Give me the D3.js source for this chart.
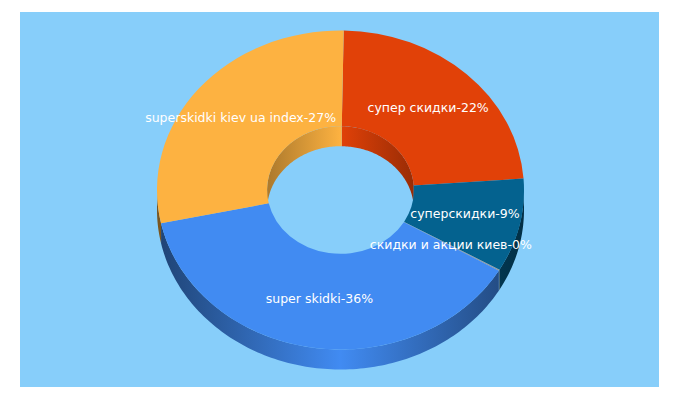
<!DOCTYPE html>
<html>
<head>
<meta charset="utf-8">
<script src="https://cdn.jsdelivr.net/npm/d3@7"></script>
<style>
  html, body { margin: 0; padding: 0; background: #fff; }
  text { font-family: "DejaVu Sans", sans-serif; font-size: 12.5px; fill: #fff; }
</style>
</head>
<body>
<div id="chartContainer"></div>
<script>
// donut in fake 3d, clockwise from the top
const names = ["супер скидки", "суперскидки", "скидки и акции киев", "super skidki", "superskidki kiev ua index"];
const labelPct = [22, 9, 0, 36, 27];
const shares = [22.4, 9.0, 0.1, 36.3, 27.2];
const colors = ["#e14108", "#04628f", "#9a9a9a", "#418bf2", "#fdb241"];

const width = 680, height = 400;
const panel = { x: 20, y: 12, w: 639, h: 375 };
const cx = 340.5, cy = 190;
const rx = 183.5, ry = 159.5, holeRatio = 0.4;
const depth = 20;
const startDeg = 1;

const svg = d3.select("#chartContainer").append("svg")
    .attr("width", width)
    .attr("height", height)
    .style("display", "block");

svg.append("rect")
    .attr("x", panel.x).attr("y", panel.y)
    .attr("width", panel.w).attr("height", panel.h)
    .attr("fill", "#87cefa");

const start = startDeg * Math.PI / 180;
const pie = d3.pie().sort(null).startAngle(start).endAngle(start + 2 * Math.PI);
const slices = pie(shares);

const defs = svg.append("defs");

// wall gradient: full colour in the middle, dark at both sides
function wallGradient(id, color, x1, x2, edge) {
    const dark = d3.interpolateRgb(color, "#000")(edge);
    const g = defs.append("linearGradient")
        .attr("id", id)
        .attr("gradientUnits", "userSpaceOnUse")
        .attr("x1", x1).attr("x2", x2)
        .attr("y1", 0).attr("y2", 0);
    g.append("stop").attr("offset", 0).attr("stop-color", dark);
    g.append("stop").attr("offset", 0.5).attr("stop-color", color);
    g.append("stop").attr("offset", 1).attr("stop-color", dark);
}

colors.forEach((c, i) => {
    wallGradient(`outer-${i}`, c, cx - rx, cx + rx, 0.52);
    wallGradient(`inner-${i}`, c, cx - rx * holeRatio, cx + rx * holeRatio, 0.32);
});

// point on the ellipse, a = 0 at top, clockwise
const px = (a, k) => cx + rx * k * Math.sin(a);
const py = (a, k, z) => cy - ry * k * Math.cos(a) + z;
const outline = d3.line();

// band between top and bottom edge of the ring for angles a0..a1
function wallPath(a0, a1, k) {
    const steps = Math.max(2, Math.ceil((a1 - a0) / 0.02));
    const angles = d3.range(steps + 1).map(i => a0 + (a1 - a0) * i / steps);
    const top = angles.map(a => [px(a, k), py(a, k, 0)]);
    const bottom = angles.slice().reverse().map(a => [px(a, k), py(a, k, depth)]);
    return outline(top.concat(bottom)) + "Z";
}

// clip a slice to the angle window [lo, hi], also one turn on
function clipped(d, lo, hi) {
    const out = [];
    [0, 2 * Math.PI].forEach(shift => {
        const a0 = Math.max(d.startAngle, lo + shift);
        const a1 = Math.min(d.endAngle, hi + shift);
        if (a1 > a0) out.push([a0, a1]);
    });
    return out;
}

// outer walls: front half only
const outerWalls = svg.append("g");
slices.forEach((d, i) => {
    clipped(d, Math.PI / 2, 3 * Math.PI / 2).forEach(([a0, a1]) => {
        outerWalls.append("path")
            .attr("d", wallPath(a0, a1, 1))
            .attr("fill", `url(#outer-${i})`);
    });
});

// hole walls: back half only
const innerWalls = svg.append("g");
slices.forEach((d, i) => {
    clipped(d, -Math.PI / 2, Math.PI / 2).forEach(([a0, a1]) => {
        innerWalls.append("path")
            .attr("d", wallPath(a0, a1, holeRatio))
            .attr("fill", `url(#inner-${i})`);
    });
});

// top face
const arc = d3.arc().innerRadius(rx * holeRatio).outerRadius(rx);
svg.append("g")
    .attr("transform", `translate(${cx},${cy}) scale(1,${ry / rx})`)
    .selectAll("path")
    .data(slices)
    .enter()
    .append("path")
    .attr("d", arc)
    .attr("fill", (d, i) => colors[i]);

// labels on the middle of the ring
const mid = (1 + holeRatio) / 2;
svg.append("g")
    .selectAll("text")
    .data(slices)
    .enter()
    .append("text")
    .attr("text-anchor", "middle")
    .attr("x", d => px((d.startAngle + d.endAngle) / 2, mid) - 0.7)
    .attr("y", d => py((d.startAngle + d.endAngle) / 2, mid, 0) + 3)
    .text((d, i) => `${names[i]}-${labelPct[i]}%`);
</script>
</body>
</html>
